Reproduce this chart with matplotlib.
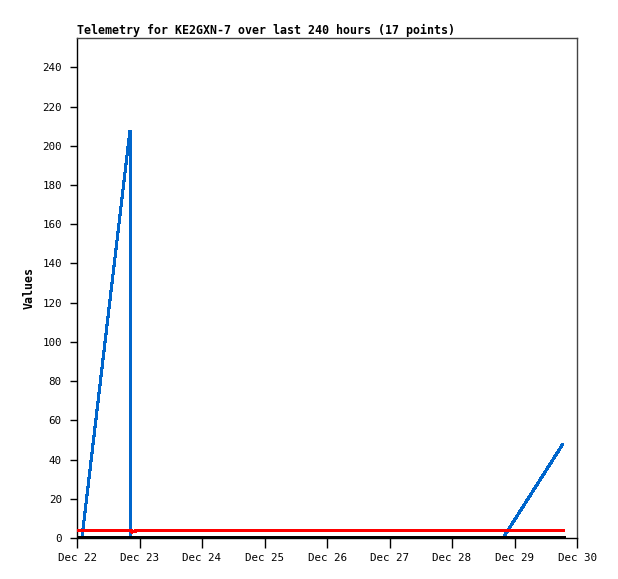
import numpy as np
import matplotlib
matplotlib.use("Agg")
import matplotlib.pyplot as plt
import matplotlib.dates as mdates

# 時刻 (Dec 22 00:00 からの時間)
start = np.datetime64("2024-12-22T00:00")
hours = [0.0, 1.9, 20.35, 20.5, 20.7, 21.1, 21.9, 23.8, 163.6, 186.6]
blue_vals = [0, 0, 208, 105, 0, 0, 0, 0, 0, 48]
red_vals = [4, 4, 4, 4, 4, 3, 3.4, 4, 4, 4]
black_vals = [0, 0, 0, 0, 0, 0, 0, 0, 0, 0]

title = "Telemetry for KE2GXN-7 over last 240 hours (17 points)"
y_ticks = list(range(0, 241, 20))

times = [start + np.timedelta64(int(round(h * 60)), "m") for h in hours]
times = np.array(times, dtype="datetime64[m]").astype("datetime64[ms]").astype(object)

fig = plt.figure(figsize=(6.18, 5.79), dpi=100)
ax = fig.add_axes([77 / 618, 1 - 538 / 579, 500 / 618, 500 / 579])

ax.plot(times, blue_vals, color="#0066cc", linewidth=1.5, antialiased=False,
        solid_capstyle="butt", solid_joinstyle="miter", zorder=2)
ax.plot(times, red_vals, color="#ff0000", linewidth=1.6, antialiased=False, zorder=3)
ax.plot(times, black_vals, color="black", linewidth=2.3, antialiased=False, zorder=4)

x0 = np.datetime64("2024-12-22T00:00").astype("datetime64[ms]").astype(object)
x1 = np.datetime64("2024-12-30T00:00").astype("datetime64[ms]").astype(object)
ax.set_xlim(x0, x1)
ax.set_ylim(0, 255)

ax.xaxis.set_major_locator(mdates.DayLocator())
ax.xaxis.set_major_formatter(mdates.DateFormatter("%b %d"))
ax.set_yticks(y_ticks)

mono = "DejaVu Sans Mono"
for lab in ax.get_xticklabels() + ax.get_yticklabels():
    lab.set_fontfamily(mono)
    lab.set_fontsize(7.8)
ax.tick_params(axis="x", direction="out", length=7, width=1, pad=4, color="black")
ax.tick_params(axis="y", direction="out", length=5, width=1, pad=6, color="black")

ax.spines["left"].set_color("black")
ax.spines["bottom"].set_color("black")
ax.spines["top"].set_color("#444444")
ax.spines["right"].set_color("#444444")
for s in ax.spines.values():
    s.set_linewidth(1)

ax.set_title(title, loc="left", fontfamily=mono, fontweight="bold", fontsize=8.4, pad=3)
ax.set_ylabel("Values", fontfamily=mono, fontweight="bold", fontsize=8.4, labelpad=5)

fig.savefig("out.png", dpi=100)
